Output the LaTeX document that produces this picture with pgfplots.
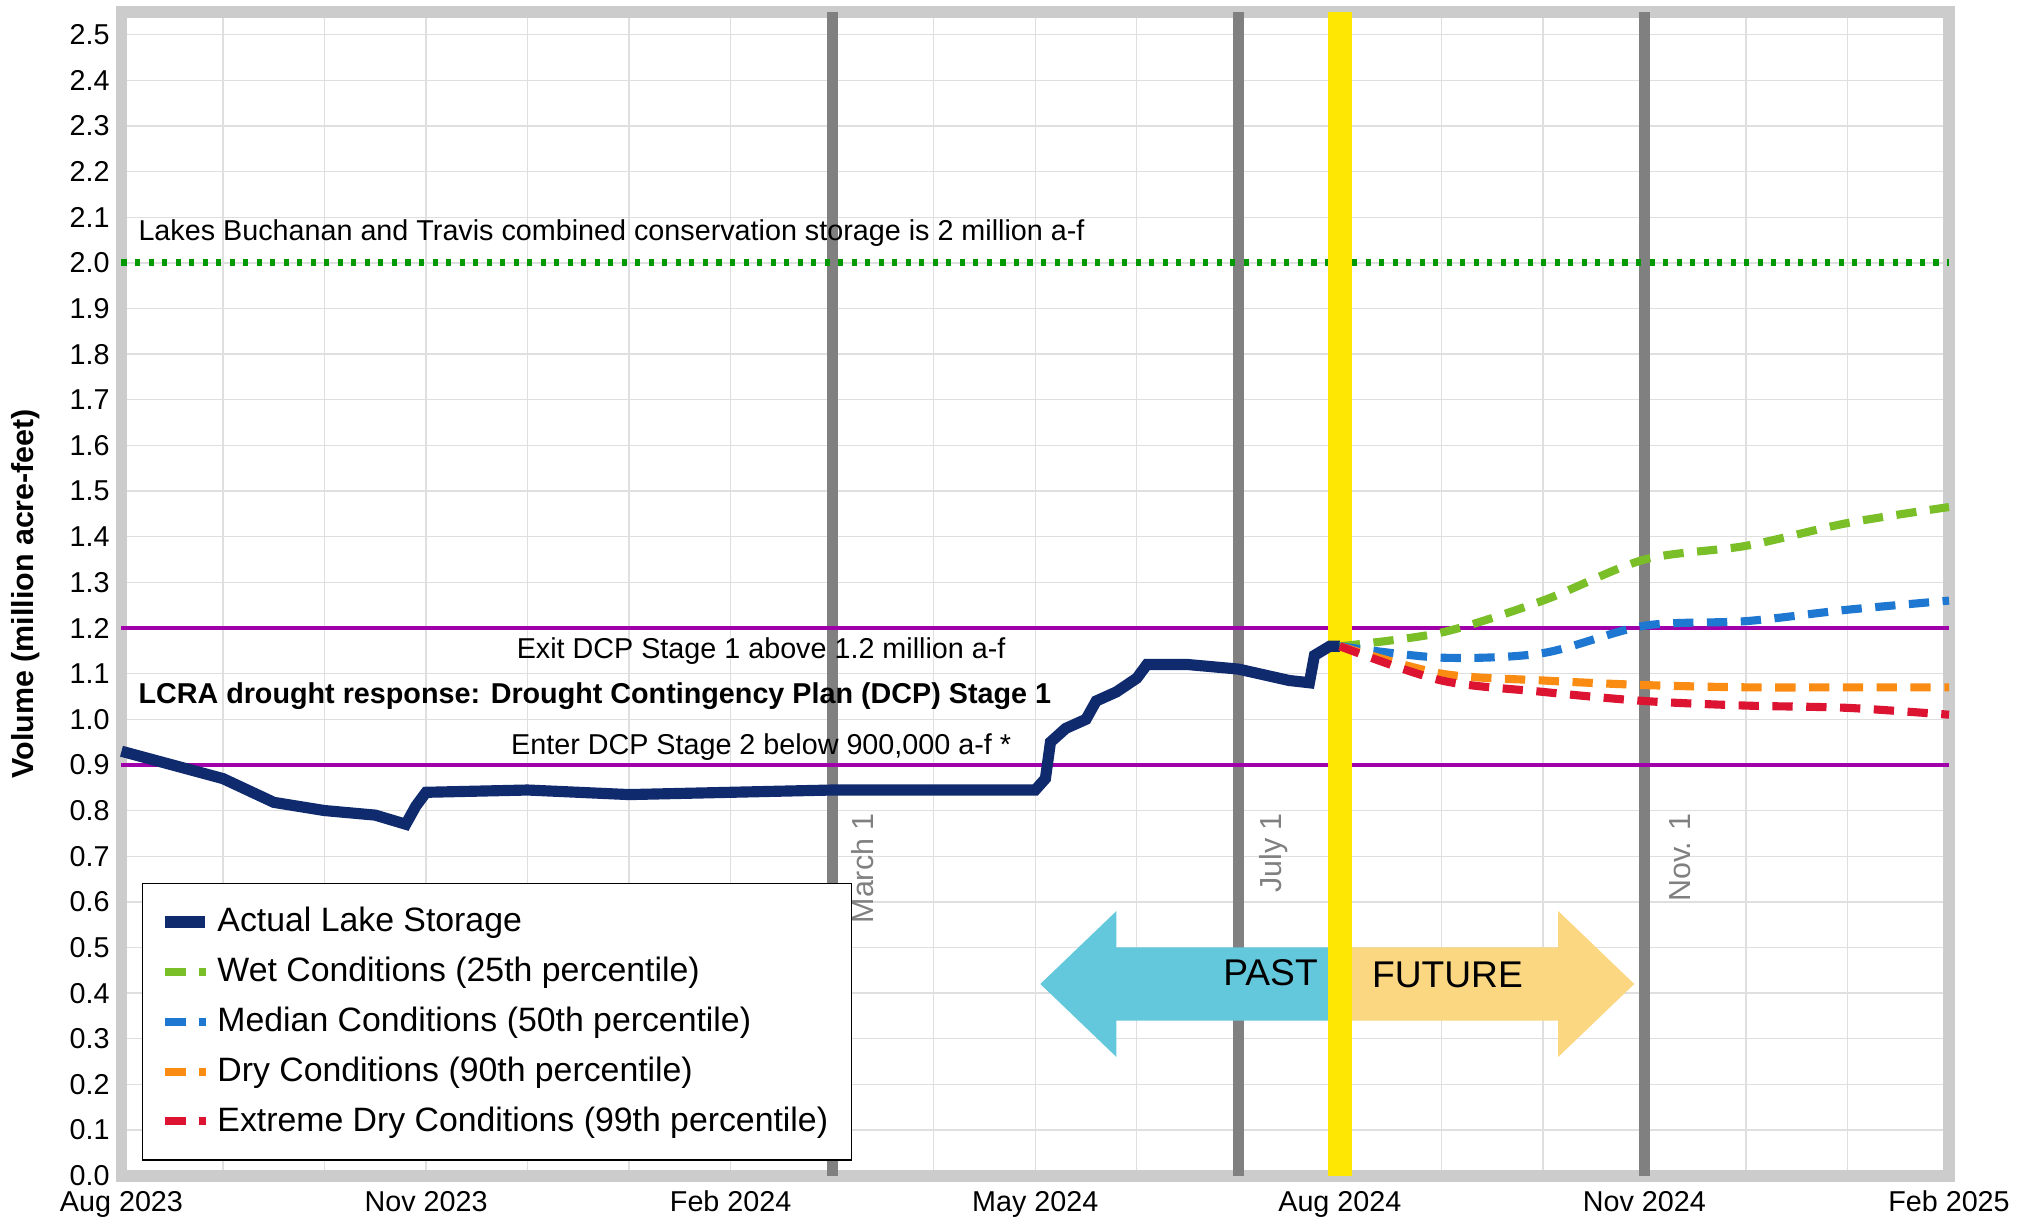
\documentclass[border=0pt]{standalone}
\usepackage{pgfplots}
\pgfplotsset{compat=1.18}
\usepackage{fontspec}
\setmainfont{Liberation Sans}
\definecolor{navy}{RGB}{16,42,110}
\definecolor{wet}{RGB}{122,190,40}
\definecolor{med}{RGB}{30,120,210}
\definecolor{dry}{RGB}{250,140,20}
\definecolor{xdry}{RGB}{220,20,50}
\definecolor{purp}{RGB}{160,0,170}
\definecolor{cyanA}{RGB}{100,200,220}
\definecolor{orA}{RGB}{252,215,130}
\begin{document}
\begin{tikzpicture}
\begin{axis}[scale only axis, width=19.0cm, height=12.1cm,
 xmin=0, xmax=18, ymin=0, ymax=2.55,
 xtick={0,3,6,9,12,15,18}, xticklabels={Aug 2023,Nov 2023,Feb 2024,May 2024,Aug 2024,Nov 2024,Feb 2025},
 minor xtick={1,2,4,5,7,8,10,11,13,14,16,17},
 ytick={0,0.1,...,2.5},
 yticklabel style={/pgf/number format/.cd,fixed,fixed zerofill,precision=1},
 /pgf/number format/assume math mode=true,
 ticklabel style={font=\fontsize{8.5}{10}\selectfont},
 xticklabel style={yshift=-1pt},
 grid=both, major grid style={gray!25}, minor grid style={gray!25},
 tick style={draw=none},
 axis line style={draw=gray!40, line width=3.5pt},
 ylabel={\bfseries Volume  (million acre-feet)}, ylabel style={font=\fontsize{9}{10}\selectfont, yshift=2pt},
 clip=false,
 legend style={at={(rel axis cs:0.011,0.013)}, anchor=south west, draw=black, fill=white, font=\fontsize{10}{13}\selectfont, row sep=2pt, inner sep=5pt},
 legend cell align=left,
 legend image post style={xscale=0.7},
]
\draw[gray, line width=3.3pt] (axis cs:7,0) -- (axis cs:7,2.55);
\draw[gray, line width=3.3pt] (axis cs:11,0) -- (axis cs:11,2.55);
\draw[gray, line width=3.3pt] (axis cs:15,0) -- (axis cs:15,2.55);
\draw[purp, line width=1.2pt] (axis cs:0,1.2) -- (axis cs:18,1.2);
\draw[purp, line width=1.2pt] (axis cs:0,0.9) -- (axis cs:18,0.9);
\draw[green!60!black, line width=2pt, dash pattern=on 1.5pt off 2.5pt] (axis cs:0,2.0) -- (axis cs:18,2.0);
\fill[cyanA] (axis cs:9.8,0.34) -- (axis cs:12,0.34) -- (axis cs:12,0.5) -- (axis cs:9.8,0.5) -- (axis cs:9.8,0.58) -- (axis cs:9.05,0.42) -- (axis cs:9.8,0.26) -- cycle;
\fill[orA] (axis cs:12,0.34) -- (axis cs:14.15,0.34) -- (axis cs:14.15,0.26) -- (axis cs:14.9,0.42) -- (axis cs:14.15,0.58) -- (axis cs:14.15,0.5) -- (axis cs:12,0.5) -- cycle;
\node[font=\fontsize{11}{12}\selectfont, anchor=east] at (axis cs:11.9,0.445) {PAST};
\node[font=\fontsize{11}{12}\selectfont, anchor=west] at (axis cs:12.2,0.44) {FUTURE};
\draw[yellow!90!orange, line width=7pt] (axis cs:12,0) -- (axis cs:12,2.55);
\node[font=\fontsize{8.5}{10}\selectfont, anchor=south west] at (axis cs:0.05,2.01) {Lakes Buchanan and Travis combined conservation storage is 2 million a-f};
\node[font=\fontsize{8.5}{10}\selectfont] at (axis cs:6.3,1.15) {Exit DCP Stage 1 above 1.2 million a-f};
\node[font=\bfseries\fontsize{8.5}{10}\selectfont, anchor=west] at (axis cs:0.05,1.05) {LCRA drought response:  Drought Contingency Plan (DCP) Stage 1};
\node[font=\fontsize{8.5}{10}\selectfont] at (axis cs:6.3,0.94) {Enter DCP Stage 2 below 900,000 a-f *};
\node[font=\fontsize{9}{10}\selectfont, text=gray, rotate=90, anchor=east] at (axis cs:7.3,0.82) {March 1};
\node[font=\fontsize{9}{10}\selectfont, text=gray, rotate=90, anchor=east] at (axis cs:11.35,0.82) {July 1};
\node[font=\fontsize{9}{10}\selectfont, text=gray, rotate=90, anchor=east] at (axis cs:15.35,0.82) {Nov. 1};
\addplot[navy, line width=3.3pt] coordinates {
(0,0.93)(0.5,0.90)(1,0.87)(1.5,0.818)(2,0.80)(2.5,0.79)(2.8,0.77)(2.9,0.81)(3,0.84)(4,0.845)(5,0.835)(6,0.84)(7,0.845)(8,0.845)(9,0.845)(9.1,0.87)(9.15,0.95)(9.3,0.98)(9.5,1.0)(9.6,1.04)(9.8,1.06)(10,1.09)(10.1,1.12)(10.5,1.12)(11,1.11)(11.5,1.085)(11.7,1.08)(11.75,1.14)(11.9,1.16)(12,1.16)};
\addlegendentry{Actual Lake Storage}
\addplot[wet, line width=2.4pt, dash pattern=on 6pt off 4pt, smooth] coordinates {(12,1.16)(13,1.19)(14,1.26)(15,1.35)(16,1.38)(17,1.43)(18,1.465)};
\addlegendentry{Wet Conditions (25th percentile)}
\addplot[med, line width=2.4pt, dash pattern=on 6pt off 4pt, smooth] coordinates {(12,1.16)(13,1.135)(14,1.145)(15,1.205)(16,1.215)(17,1.24)(18,1.26)};
\addlegendentry{Median Conditions (50th percentile)}
\addplot[dry, line width=2.4pt, dash pattern=on 6pt off 4pt, smooth] coordinates {(12,1.16)(13,1.10)(14,1.085)(15,1.075)(16,1.07)(17,1.07)(18,1.07)};
\addlegendentry{Dry Conditions (90th percentile)}
\addplot[xdry, line width=2.4pt, dash pattern=on 6pt off 4pt, smooth] coordinates {(12,1.16)(13,1.085)(14,1.06)(15,1.04)(16,1.03)(17,1.025)(18,1.01)};
\addlegendentry{Extreme Dry Conditions (99th percentile)}
\end{axis}
\end{tikzpicture}
\end{document}
